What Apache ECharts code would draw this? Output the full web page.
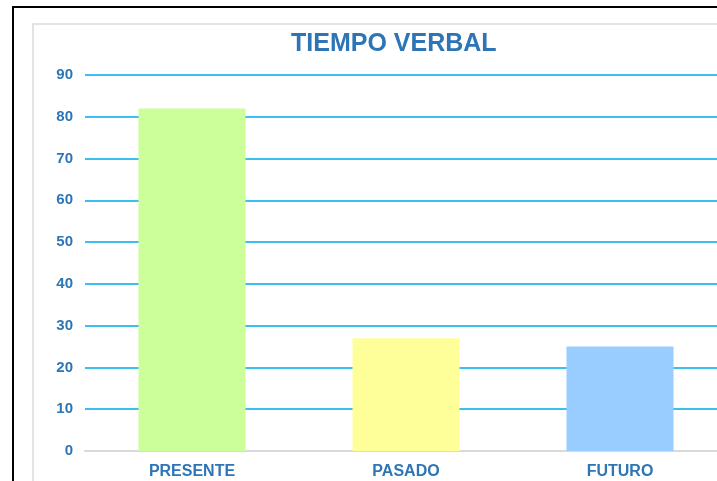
<!DOCTYPE html>
<html>
<head>
<meta charset="utf-8">
<script src="https://cdn.jsdelivr.net/npm/echarts@6/dist/echarts.min.js"></script>
<style>
  html, body { margin: 0; padding: 0; background: #fff; overflow: hidden; }
  #outer { position: absolute; left: 12px; top: 6px; width: 720px; height: 490px; border-left: 2px solid #000; border-top: 2px solid #000; }
  #inner { position: absolute; left: 32px; top: 23px; width: 700px; height: 470px; border-left: 2px solid #e3e3e3; border-top: 2px solid #e3e3e3; }
  #chart { position: absolute; left: 0; top: 0; width: 727px; height: 481px; }
</style>
</head>
<body>
<div id="outer"></div>
<div id="inner"></div>
<div id="chart"></div>
<script>
const categories = ['PRESENTE', 'PASADO', 'FUTURO']
const values = [82, 27, 25]
const barColors = ['#ccff99', '#ffff99', '#99ccff']

const chart = echarts.init(document.getElementById('chart'))

const labelColor = '#2e75b6'

chart.setOption({
  backgroundColor: 'transparent',
  animation: false,
  title: {
    text: 'TIEMPO VERBAL',
    left: 286,
    top: 27,
    textStyle: {
      color: labelColor,
      fontFamily: 'Liberation Sans',
      fontWeight: 'bold',
      fontSize: 25
    }
  },
  grid: {
    left: 85,
    right: 0,
    top: 75,
    bottom: 30
  },
  xAxis: {
    type: 'category',
    data: categories,
    axisTick: { show: false },
    axisLine: { lineStyle: { color: '#d9d9d9', width: 2 } },
    axisLabel: {
      color: labelColor,
      fontFamily: 'Liberation Sans',
      fontWeight: 'bold',
      fontSize: 16,
      margin: 13
    }
  },
  yAxis: {
    type: 'value',
    min: 0,
    max: 90,
    interval: 10,
    axisLine: { show: false },
    axisTick: { show: false },
    splitLine: { lineStyle: { color: '#3cbfee', width: 2 } },
    axisLabel: {
      color: labelColor,
      fontFamily: 'Liberation Sans',
      fontWeight: 'bold',
      fontSize: 15,
      margin: 12
    }
  },
  series: [{
    type: 'bar',
    barWidth: '50%',
    z: 3,
    data: values.map((v, i) => ({
      value: v,
      itemStyle: { color: barColors[i] }
    }))
  }]
})
</script>
</body>
</html>
